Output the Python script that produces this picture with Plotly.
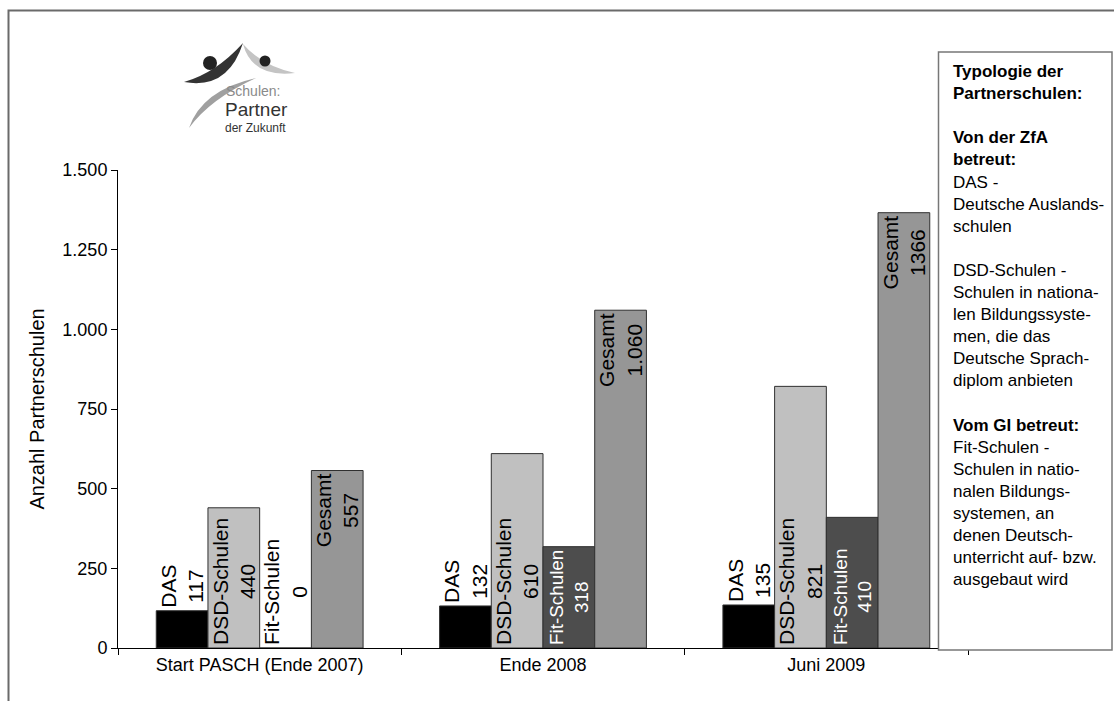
import plotly.graph_objects as go

# ---------------- data ----------------
categories = ["Start PASCH (Ende 2007)", "Ende 2008", "Juni 2009"]
series_names = ["DAS", "DSD-Schulen", "Fit-Schulen", "Gesamt"]
das_values = [117, 132, 135]
dsd_values = [440, 610, 821]
fit_values = [0, 318, 410]
gesamt_values = [557, 1060, 1366]
das_labels = ["117", "132", "135"]
dsd_labels = ["440", "610", "821"]
fit_labels = ["0", "318", "410"]
gesamt_labels = ["557", "1.060", "1366"]
y_title = "Anzahl Partnerschulen"

legend_lines = [
    "<b>Typologie der</b>", "<b>Partnerschulen:</b>", "",
    "<b>Von der ZfA</b>", "<b>betreut:</b>", "DAS -", "Deutsche Auslands-", "schulen", "",
    "DSD-Schulen -", "Schulen in nationa-", "len Bildungssyste-", "men, die das",
    "Deutsche Sprach-", "diplom anbieten", "",
    "<b>Vom GI betreut:</b>", "Fit-Schulen -", "Schulen in natio-", "nalen Bildungs-",
    "systemen, an", "denen Deutsch-", "unterricht auf- bzw.", "ausgebaut wird",
]

FONT = "Liberation Sans, Arial, sans-serif"
W, H = 1114, 701
ML, MR, MT, MB = 118, 146, 170, 53
PW, PH = W - ML - MR, H - MT - MB


def px(x):
    return (x - ML) / PW


def py(y):
    return (H - MB - y) / PH


def lbl(name, vals):
    return [f"{name}<br>{v}" for v in vals]


fig = go.Figure()
common = dict(textangle=-90, marker_line_color="#303030", marker_line_width=1,
              cliponaxis=False, hoverinfo="skip")

fig.add_bar(x=categories, y=das_values, name=series_names[0],
            text=lbl(series_names[0], das_labels), textposition="outside",
            constraintext="none",
            outsidetextfont=dict(color="black", size=21, family=FONT),
            marker_color="#000000", **common)
fig.add_bar(x=categories, y=dsd_values, name=series_names[1],
            text=lbl(series_names[1], dsd_labels), textposition="inside",
            insidetextanchor="start", constraintext="none",
            insidetextfont=dict(color="black", size=21, family=FONT),
            marker_color="#c0c0c0", **common)
fig.add_bar(x=categories, y=fit_values, name=series_names[2],
            text=lbl(series_names[2], fit_labels),
            textposition=["outside", "inside", "inside"],
            insidetextanchor="start", constraintext="inside",
            insidetextfont=dict(color="white", size=21, family=FONT),
            outsidetextfont=dict(color="black", size=21, family=FONT),
            marker_color="#4d4d4d", **common)
fig.add_bar(x=categories, y=gesamt_values, name=series_names[3],
            text=lbl(series_names[3], gesamt_labels), textposition="inside",
            insidetextanchor="end", constraintext="none",
            insidetextfont=dict(color="black", size=21, family=FONT),
            marker_color="#969696", **common)

shapes = []
# outer frame
shapes.append(dict(type="rect", xref="paper", yref="paper",
                   x0=px(8.5), x1=px(1300), y0=py(900), y1=py(10.5),
                   line=dict(color="#6a6a6a", width=2), layer="below"))
# legend/info box
shapes.append(dict(type="rect", xref="paper", yref="paper",
                   x0=px(938.5), x1=px(1112), y0=py(650), y1=py(52),
                   line=dict(color="#777777", width=1.5), fillcolor="white",
                   layer="above"))


def path(points_cmds):
    out = []
    for c in points_cmds:
        if isinstance(c, str):
            out.append(c)
        else:
            out.append(f"{px(c[0]):.5f},{py(c[1]):.5f}")
    return " ".join(out)


# logo swooshes
shapes.append(dict(type="path", xref="paper", yref="paper",
                   path=path(["M", (256, 78), "Q", (202, 90), (189, 128),
                              "Q", (210, 99), (256, 78), "Z"]),
                   fillcolor="#a0a0a0", line=dict(width=0)))
shapes.append(dict(type="path", xref="paper", yref="paper",
                   path=path(["M", (184, 82), "Q", (228, 90), (243, 43),
                              "Q", (216, 73), (184, 82), "Z"]),
                   fillcolor="#333333", line=dict(width=0)))
shapes.append(dict(type="path", xref="paper", yref="paper",
                   path=path(["M", (243, 44), "Q", (252, 78), (295, 73),
                              "Q", (262, 66), (243, 44), "Z"]),
                   fillcolor="#c4c4c4", line=dict(width=0)))
shapes.append(dict(type="circle", xref="paper", yref="paper",
                   x0=px(203), x1=px(217), y0=py(70), y1=py(56),
                   fillcolor="#222222", line=dict(width=0)))
shapes.append(dict(type="circle", xref="paper", yref="paper",
                   x0=px(259.5), x1=px(270.5), y0=py(66.5), y1=py(55.5),
                   fillcolor="#222222", line=dict(width=0)))

annotations = [
    dict(xref="paper", yref="paper", x=px(951), y=py(60), xanchor="left",
         yanchor="top", align="left", showarrow=False,
         text="<br>".join(legend_lines),
         font=dict(family=FONT, size=17, color="black")),
    dict(xref="paper", yref="paper", x=px(225), y=py(91), xanchor="left",
         yanchor="middle", align="left", showarrow=False, text="Schulen:",
         borderpad=0, font=dict(family=FONT, size=14, color="#8a8a8a")),
    dict(xref="paper", yref="paper", x=px(224), y=py(117), xanchor="left",
         yanchor="middle", align="left", showarrow=False, borderpad=0,
         text='<span style="font-size:19px">Partner</span><br>der Zukunft',
         font=dict(family=FONT, size=12, color="#333333")),
]

fig.update_layout(
    width=W, height=H,
    margin=dict(l=ML, r=MR, t=MT, b=MB, pad=0),
    paper_bgcolor="white", plot_bgcolor="white",
    barmode="group", bargap=0.27, bargroupgap=0,
    showlegend=False,
    separators=",.",
    font=dict(family=FONT, size=18, color="black"),
    shapes=shapes, annotations=annotations,
)
fig.update_xaxes(showline=True, linecolor="black", linewidth=1,
                 ticks="outside", tickson="boundaries", ticklen=6,
                 tickcolor="black", showgrid=False,
                 tickfont=dict(size=18, family=FONT))
fig.update_yaxes(range=[0, 1500], dtick=250, tickformat=",",
                 showline=True, linecolor="black", linewidth=1,
                 ticks="outside", ticklen=6, tickcolor="black",
                 showgrid=False, zeroline=False,
                 tickfont=dict(size=18, family=FONT),
                 title=dict(text=y_title, standoff=12,
                            font=dict(size=20, family=FONT)))

fig.write_html("out.html")
